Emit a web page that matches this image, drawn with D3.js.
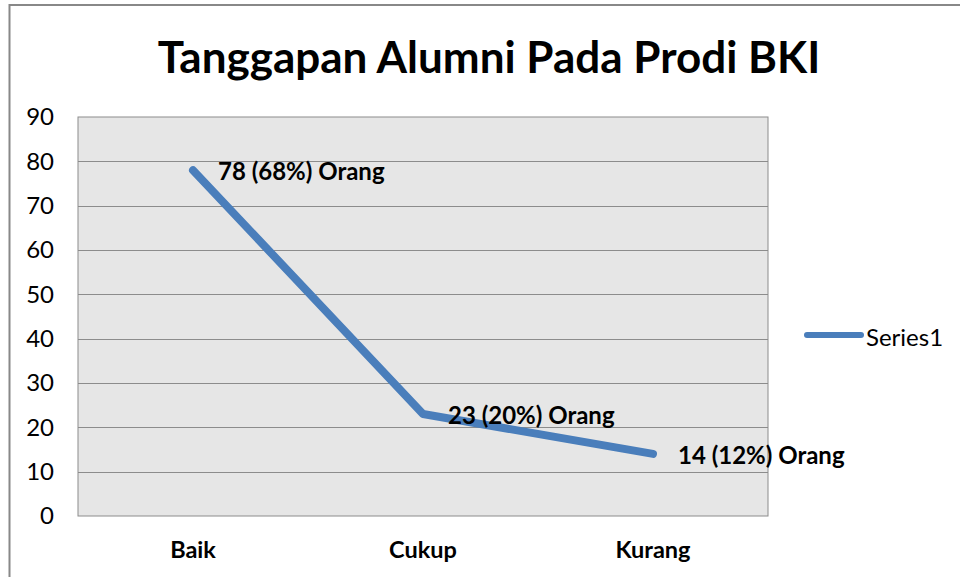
<!DOCTYPE html>
<html><head><meta charset="utf-8">
<script src="https://cdn.jsdelivr.net/npm/d3@7"></script>
<style>html,body{margin:0;padding:0;background:#fff;}svg{display:block;}</style>
</head><body>
<script>
const categories = ["Baik", "Cukup", "Kurang"];
const values = [78, 23, 14];
const labels = ["78 (68%) Orang", "23 (20%) Orang", "14 (12%) Orang"];
const yTicks = [0, 10, 20, 30, 40, 50, 60, 70, 80, 90];
const seriesName = "Series1";
const title = "Tanggapan Alumni Pada Prodi BKI";

const W = 960, H = 577;
const font = "Lato, 'Open Sans', sans-serif";
const svg = d3.select("body").append("svg").attr("width", W).attr("height", H);

// outer chart border
svg.append("rect").attr("x", 9.5).attr("y", 5).attr("width", 1000).attr("height", 700)
  .attr("fill", "#fff").attr("stroke", "#888").attr("stroke-width", 2);

const plot = {x0: 78, x1: 768, y0: 117, y1: 516};
const x = d3.scaleBand().domain(categories).range([plot.x0, plot.x1]);
const y = d3.scaleLinear().domain([0, 90]).range([plot.y1, plot.y0]);

svg.append("rect").attr("x", plot.x0).attr("y", plot.y0)
  .attr("width", plot.x1 - plot.x0).attr("height", plot.y1 - plot.y0)
  .attr("fill", "#e6e6e6").attr("stroke", "#8c8c8c").attr("stroke-width", 1);

// gridlines
svg.append("g").selectAll("line").data(yTicks.filter(d => d > 0 && d < 90)).join("line")
  .attr("x1", plot.x0).attr("x2", plot.x1)
  .attr("y1", d => Math.round(y(d)) + 0.5).attr("y2", d => Math.round(y(d)) + 0.5)
  .attr("stroke", "#8c8c8c").attr("stroke-width", 1);

// y axis
const yAxis = svg.append("g").attr("transform", `translate(${plot.x0},0)`)
  .call(d3.axisLeft(y).tickValues(yTicks).tickSize(0).tickPadding(24));
yAxis.select(".domain").remove();
yAxis.selectAll("text").attr("font-family", font).attr("font-size", 24).attr("fill", "#000");

// x axis
const xAxis = svg.append("g").attr("transform", `translate(0,${plot.y1})`)
  .call(d3.axisBottom(x).tickSize(0).tickPadding(25));
xAxis.select(".domain").remove();
xAxis.selectAll("text").attr("font-family", font).attr("font-size", 23.5)
  .attr("font-weight", "bold").attr("fill", "#000");

// line
const data = categories.map((c, i) => ({c, v: values[i], l: labels[i]}));
const line = d3.line().x(d => x(d.c) + x.bandwidth() / 2).y(d => y(d.v));
svg.append("path").datum(data).attr("d", line).attr("fill", "none")
  .attr("stroke", "#4a7ebb").attr("stroke-width", 8)
  .attr("stroke-linejoin", "round").attr("stroke-linecap", "round");

// data labels
svg.append("g").selectAll("text").data(data).join("text")
  .attr("x", d => x(d.c) + x.bandwidth() / 2 + 25)
  .attr("y", d => y(d.v) + 0.5)
  .attr("dominant-baseline", "central")
  .attr("font-family", font).attr("font-size", 24).attr("font-weight", "bold")
  .attr("fill", "#000").text(d => d.l);

// title
svg.append("text").attr("x", 489).attr("y", 73).attr("text-anchor", "middle")
  .attr("font-family", font).attr("font-size", 44).attr("font-weight", "bold")
  .attr("fill", "#000").text(title);

// legend
svg.append("line").attr("x1", 807).attr("x2", 861).attr("y1", 335).attr("y2", 335)
  .attr("stroke", "#4a7ebb").attr("stroke-width", 6).attr("stroke-linecap", "round");
svg.append("text").attr("x", 866).attr("y", 336).attr("dominant-baseline", "central")
  .attr("font-family", font).attr("font-size", 24).attr("fill", "#000").text(seriesName);
</script>
</body></html>
